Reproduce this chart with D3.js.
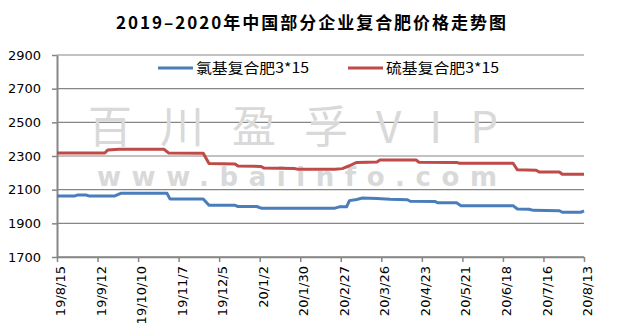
<!DOCTYPE html>
<html>
<head>
<meta charset="utf-8">
<script src="https://cdn.jsdelivr.net/npm/d3@7"></script>
<style>
  body { margin: 0; background: #fff; }
  svg { display: block; }
</style>
</head>
<body>
<div id="chart"></div>
<script>
// Series labels
const seriesNames = ['氯基复合肥3*15', '硫基复合肥3*15'];

// Category ticks on the x axis (every 28 days)
const tickDates = ['2019-08-15', '2019-09-12', '2019-10-10', '2019-11-07', '2019-12-05', '2020-01-02', '2020-01-30',
	'2020-02-27', '2020-03-26', '2020-04-23', '2020-05-21', '2020-06-18', '2020-07-16', '2020-08-13'];
const yTicks = [1700, 1900, 2100, 2300, 2500, 2700, 2900];

// Chloride based 3*15 (blue), price points
const blueDates = ['2019-08-15', '2019-08-27', '2019-08-29', '2019-09-04', '2019-09-06', '2019-09-24', '2019-09-28',
	'2019-10-30', '2019-11-01', '2019-11-24', '2019-11-28', '2019-12-16', '2019-12-18', '2019-12-31', '2020-01-03',
	'2020-02-23', '2020-02-26', '2020-03-02', '2020-03-04', '2020-03-09', '2020-03-13', '2020-03-23', '2020-03-29',
	'2020-04-01', '2020-04-13', '2020-04-15', '2020-05-02', '2020-05-04', '2020-05-17', '2020-05-20', '2020-06-25',
	'2020-06-28', '2020-07-06', '2020-07-09', '2020-07-27', '2020-07-29', '2020-08-11', '2020-08-13'];
const blueValues = [2062, 2062, 2068, 2068, 2063, 2063, 2078,
	2078, 2045, 2045, 2007, 2007, 2000, 2000, 1990,
	1990, 1998, 1998, 2035, 2042, 2050, 2048, 2045,
	2043, 2040, 2031, 2030, 2022, 2022, 2005, 2005,
	1985, 1984, 1977, 1975, 1966, 1966, 1974];

// Sulphate based 3*15 (red)
const redDates = ['2019-08-15', '2019-09-17', '2019-09-19', '2019-09-27', '2019-10-28', '2019-10-31', '2019-11-24',
	'2019-11-28', '2019-12-16', '2019-12-18', '2020-01-03', '2020-01-05', '2020-01-26', '2020-01-28', '2020-02-23',
	'2020-02-28', '2020-03-04', '2020-03-09', '2020-03-23', '2020-03-25', '2020-04-19', '2020-04-21', '2020-05-17',
	'2020-05-19', '2020-06-25', '2020-06-28', '2020-07-11', '2020-07-13', '2020-07-27', '2020-07-29', '2020-08-13'];
const redValues = [2318, 2318, 2335, 2340, 2340, 2318, 2316,
	2255, 2252, 2240, 2238, 2228, 2226, 2222, 2222,
	2225, 2242, 2262, 2265, 2276, 2276, 2263, 2262,
	2257, 2257, 2218, 2215, 2205, 2205, 2192, 2192];

const width = 619, height = 328;
const margin = { left: 57, right: 35, top: 55, bottom: 71 };
const parse = d3.timeParse('%Y-%m-%d');
const fmt = d3.timeFormat('%y/%-m/%-d');

const svg = d3.select('#chart').append('svg')
	.attr('width', width)
	.attr('height', height);

const x = d3.scaleTime()
	.domain([parse(tickDates[0]), parse(tickDates[tickDates.length - 1])])
	.range([margin.left, width - margin.right]);
const y = d3.scaleLinear()
	.domain([1700, 2900])
	.range([height - margin.bottom, margin.top]);

// Title
svg.append('text')
	.attr('x', 311).attr('y', 29)
	.attr('text-anchor', 'middle')
	.attr('font-family', '"Noto Sans CJK SC", sans-serif')
	.attr('font-weight', 'bold')
	.attr('font-size', 17)
	.attr('textLength', 390)
	.attr('lengthAdjust', 'spacing')
	.text('2019–2020年中国部分企业复合肥价格走势图');

// Gridlines
svg.append('g')
	.selectAll('line')
	.data(yTicks)
	.join('line')
	.attr('x1', margin.left).attr('x2', width - margin.right)
	.attr('y1', d => y(d)).attr('y2', d => y(d))
	.attr('stroke', '#868686')
	.attr('stroke-width', d => d === 1700 ? 1.5 : 1.2);

// Watermark
const wm = svg.append('g').attr('fill', '#d9d9d9').attr('text-anchor', 'middle');
wm.append('text')
	.attr('x', 293).attr('y', 143)
	.attr('font-family', '"Noto Sans CJK SC", sans-serif')
	.attr('font-size', 44)
	.attr('textLength', 410)
	.attr('lengthAdjust', 'spacing')
	.text('百川盈孚VIP');
wm.append('text')
	.attr('x', 297).attr('y', 186)
	.attr('font-family', '"DejaVu Sans", sans-serif')
	.attr('font-weight', 'bold')
	.attr('font-size', 26)
	.attr('textLength', 400)
	.attr('lengthAdjust', 'spacing')
	.text('www.baiinfo.com');

// Y axis
const yAxis = svg.append('g')
	.attr('transform', `translate(${margin.left},0)`)
	.call(d3.axisLeft(y).tickValues(yTicks).tickSize(5).tickSizeOuter(0).tickFormat(d3.format('d')));
yAxis.select('.domain').attr('stroke', '#868686').attr('stroke-width', 2);
yAxis.selectAll('.tick line').attr('stroke', '#868686').attr('stroke-width', 1.5);
yAxis.selectAll('.tick text')
	.attr('x', -16)
	.attr('fill', '#000')
	.attr('font-family', '"DejaVu Sans", sans-serif')
	.attr('font-size', 13);

// X axis
const xAxis = svg.append('g')
	.attr('transform', `translate(0,${height - margin.bottom})`)
	.call(d3.axisBottom(x).tickValues(tickDates.map(parse)).tickSize(5).tickSizeOuter(0).tickFormat(fmt));
xAxis.select('.domain').attr('stroke', '#868686').attr('stroke-width', 1.5);
xAxis.selectAll('.tick line').attr('stroke', '#868686').attr('stroke-width', 1.5);
xAxis.selectAll('.tick text')
	.attr('transform', 'translate(3,0) rotate(-90)')
	.attr('x', -9).attr('y', 0).attr('dy', '0.35em').attr('dx', 0)
	.attr('text-anchor', 'end')
	.attr('fill', '#000')
	.attr('font-family', '"DejaVu Sans", sans-serif')
	.attr('font-size', 13);

// Lines
const line = d3.line()
	.x(d => x(d.date))
	.y(d => y(d.value));
const series = [
	{ name: seriesNames[0], color: '#4a7ebb', data: blueDates.map((d, i) => ({ date: parse(d), value: blueValues[i] })) },
	{ name: seriesNames[1], color: '#be4b48', data: redDates.map((d, i) => ({ date: parse(d), value: redValues[i] })) }
];
svg.append('g')
	.selectAll('path')
	.data(series)
	.join('path')
	.attr('fill', 'none')
	.attr('stroke', d => d.color)
	.attr('stroke-width', 3)
	.attr('stroke-linejoin', 'round')
	.attr('d', d => line(d.data));

// Legend
const legendX = [158, 348];
const legend = svg.append('g')
	.selectAll('g')
	.data(series)
	.join('g')
	.attr('transform', (d, i) => `translate(${legendX[i]},68)`);
legend.append('line')
	.attr('x1', 0).attr('x2', 35)
	.attr('stroke', d => d.color)
	.attr('stroke-width', 3);
legend.append('text')
	.attr('x', 38).attr('y', 5)
	.attr('font-family', '"Noto Sans CJK SC", sans-serif')
	.attr('font-size', 14)
	.attr('textLength', 113)
	.attr('lengthAdjust', 'spacingAndGlyphs')
	.text(d => d.name);
</script>
</body>
</html>
